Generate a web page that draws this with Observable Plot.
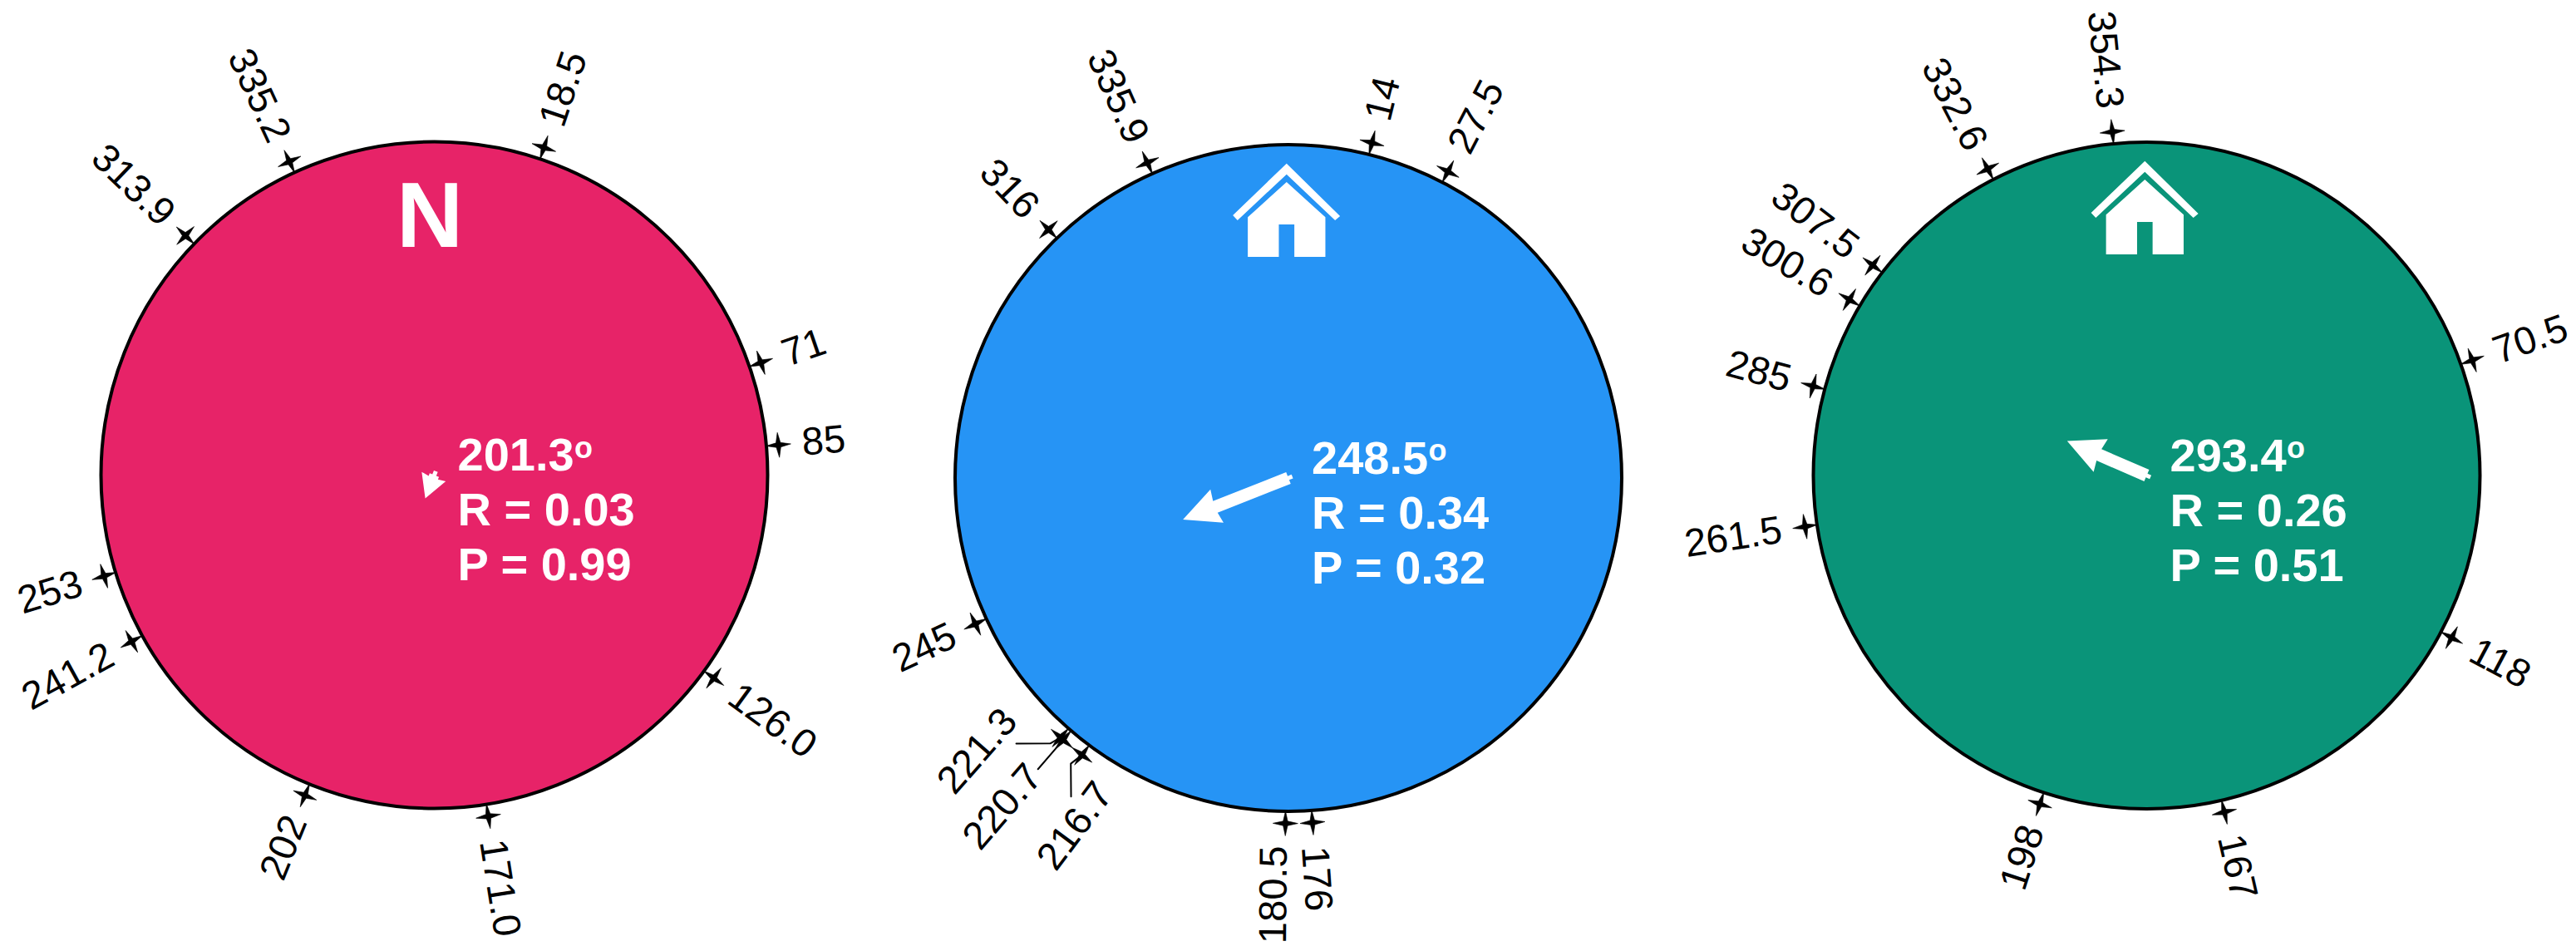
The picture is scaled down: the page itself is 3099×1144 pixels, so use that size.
<!DOCTYPE html>
<html>
<head>
<meta charset="utf-8">
<script src="https://cdn.jsdelivr.net/npm/d3@7"></script>
<script src="https://cdn.jsdelivr.net/npm/@observablehq/plot@0.6"></script>
<style>
  html, body { margin: 0; padding: 0; background: #fff; }
  svg { display: block; }
</style>
</head>
<body>
<div id="chart"></div>
<script>
// ---- Values ----
const panelIcons = ["N", "house", "house"];
const meanAngles = ["201.3", "248.5", "293.4"];
const resultants = [0.03, 0.34, 0.26];
const pValues = ["0.99", "0.32", "0.51"];
const ticksNorth = ["18.5", "71", "85", "126.0", "171.0", "202", "241.2", "253", "313.9", "335.2"];
const ticksHomeA = ["14", "27.5", "176", "180.5", "216.7", "220.7", "221.3", "245", "316", "335.9"];
const ticksHomeB = ["70.5", "118", "167", "198", "261.5", "285", "300.6", "307.5", "332.6", "354.3"];

// ---- Layout and style (page units) ----
const WIDTH = 3099, HEIGHT = 1144;
const centersX = [522, 1549.5, 2582];
const centersY = [571, 574.5, 571.5];
const RADIUS = 401;
const TICK_RADIUS = 415.5;
const LABEL_RADIUS = 444;
const fills = ["#E72368", "#2694F5", "#0A9479"];

const toX = (p, a, rho) => centersX[p] + rho * Math.sin(a * Math.PI / 180);
const toY = (p, a, rho) => centersY[p] - rho * Math.cos(a * Math.PI / 180);

const panels = panelIcons.map((icon, p) => ({
  p, icon, cx: centersX[p], cy: centersY[p], fill: fills[p],
  mean: +meanAngles[p], R: resultants[p]
}));

// Crowded labels in the middle panel sit off the rim, some joined by leaders (angle, radius)
const displaced = new Map([
  ["180.5", {a: 182.0, rho: 501.5, leader: []}],
  ["216.7", {a: 211.5, rho: 491, leader: [[214.3, 464], [217.3, 432], [216.7, 415.5]]}],
  ["220.7", {a: 221.0, rho: 524, leader: [[220.7, 462], [220.7, 415.5]]}],
  ["221.3", {a: 228.7, rho: 498, leader: [[225.7, 457.5], [221.9, 429], [221.3, 415.5]]}]
]);

const ticks = [ticksNorth, ticksHomeA, ticksHomeB].flatMap((list, p) => list.map((label) => {
  const a = +label;
  const moved = p === 1 ? displaced.get(label) : undefined;
  const la = moved ? moved.a : a;
  const lr = moved ? moved.rho : LABEL_RADIUS;
  return {
    p, label, a, moved: !!moved,
    x: toX(p, a, TICK_RADIUS), y: toY(p, a, TICK_RADIUS),
    lx: toX(p, la, lr), ly: toY(p, la, lr),
    lrot: a < 180 ? a - 90 : a - 270
  };
}));

const leaders = [...displaced.entries()].flatMap(([label, d]) =>
  d.leader.map(([a, rho]) => ({label, x: toX(1, a, rho), y: toY(1, a, rho)})));

const statRows = panels.flatMap((d) => [
  {x: d.cx + 28, y: d.cy - 5.5, text: meanAngles[d.p]},
  {x: d.cx + 28, y: d.cy + 60.5, text: `R = ${resultants[d.p].toFixed(2)}`},
  {x: d.cx + 28, y: d.cy + 126.5, text: `P = ${pValues[d.p]}`}
]);
const degreeMarks = panels.map((d) => ({x: d.cx + 168.5, y: d.cy - 21, text: "o"}));

// ---- Custom shapes ----
const star = {
  draw(ctx, size) {
    const r = Math.sqrt(size / Math.PI), w = r * 0.18;
    ctx.moveTo(0, -r);
    ctx.lineTo(w, -w); ctx.lineTo(r, 0); ctx.lineTo(w, w);
    ctx.lineTo(0, r); ctx.lineTo(-w, w); ctx.lineTo(-r, 0); ctx.lineTo(-w, -w);
    ctx.closePath();
  }
};

const house = {
  draw(ctx) {
    const poly = (pts) => {
      pts.forEach(([x, y], i) => {
        const X = (x - 382) / 3, Y = (y - 250) / 3;
        i ? ctx.lineTo(X, Y) : ctx.moveTo(X, Y);
      });
      ctx.closePath();
    };
    poly([[382, 78], [575, 268], [557, 283], [382, 117], [205, 283], [188, 265]]);
    poly([[382, 145], [522, 272], [522, 415], [410, 415], [410, 298], [354, 298], [354, 415], [242, 415], [242, 272]]);
  }
};

const meanArrow = {
  draw(ctx, l) {
    const small = l < 30;
    const hl = small ? 28 : 44, hw = small ? 15.5 : 21.5;
    const sw = small ? 6 : 7.5;
    const tip = Math.max(l, 30);
    const poly = (pts) => {
      pts.forEach(([x, y], i) => i ? ctx.lineTo(x, y) : ctx.moveTo(x, y));
      ctx.closePath();
    };
    poly([[0, -tip], [hw, -tip + hl], [sw, -tip + hl * 0.95], [sw, 0], [2.5, 0], [2.5, 5], [-2.5, 5], [-2.5, 0], [-sw, 0], [-sw, -tip + hl * 0.95], [-hw, -tip + hl]]);
  }
};

const textBase = {fontFamily: "Liberation Sans, Arial, sans-serif"};

const plot = Plot.plot({
  width: WIDTH,
  height: HEIGHT,
  margin: 0,
  x: {domain: [0, WIDTH], range: [0, WIDTH], axis: null},
  y: {domain: [0, HEIGHT], range: [0, HEIGHT], axis: null},
  length: {type: "linear", domain: [0, 1], range: [0, RADIUS]},
  marks: [
    Plot.dot(panels, {x: "cx", y: "cy", r: RADIUS, fill: "fill", stroke: "black", strokeWidth: 4}),
    Plot.line(leaders, {x: "x", y: "y", z: "label", stroke: "black", strokeWidth: 2, curve: "linear"}),
    Plot.dot(ticks, {x: "x", y: "y", r: 15, symbol: star, rotate: "a", fill: "black", stroke: "black", strokeWidth: 0.6}),
    Plot.text(ticks.filter((d) => !d.moved && d.a < 180), {...textBase, x: "lx", y: "ly", text: "label", rotate: "lrot", textAnchor: "start", fontSize: 47, fill: "black"}),
    Plot.text(ticks.filter((d) => !d.moved && d.a >= 180), {...textBase, x: "lx", y: "ly", text: "label", rotate: "lrot", textAnchor: "end", fontSize: 47, fill: "black"}),
    Plot.text(ticks.filter((d) => d.moved), {...textBase, x: "lx", y: "ly", text: "label", rotate: "lrot", textAnchor: "middle", fontSize: 47, fill: "black"}),
    Plot.vector(panels, {x: "cx", y: "cy", length: "R", rotate: "mean", anchor: "start", shape: meanArrow, fill: "white", stroke: "none"}),
    Plot.text(statRows, {...textBase, x: "x", y: "y", text: "text", textAnchor: "start", lineAnchor: "bottom", fontSize: 56, fontWeight: "bold", fill: "white"}),
    Plot.text(degreeMarks, {...textBase, x: "x", y: "y", text: "text", textAnchor: "start", lineAnchor: "bottom", fontSize: 36, fontWeight: "bold", fill: "white"}),
    Plot.text(panels.filter((d) => d.icon === "N"), {...textBase, x: (d) => d.cx - 5.5, y: (d) => d.cy - 275, text: "icon", textAnchor: "middle", lineAnchor: "bottom", fontSize: 111, fontWeight: "bold", fill: "white"}),
    Plot.dot(panels.filter((d) => d.icon === "house"), {x: (d) => d.cx - 2.2, y: (d) => d.cy - 321, r: 10, symbol: house, fill: "white", stroke: "none"})
  ]
});
document.getElementById("chart").appendChild(plot);
</script>
</body>
</html>
